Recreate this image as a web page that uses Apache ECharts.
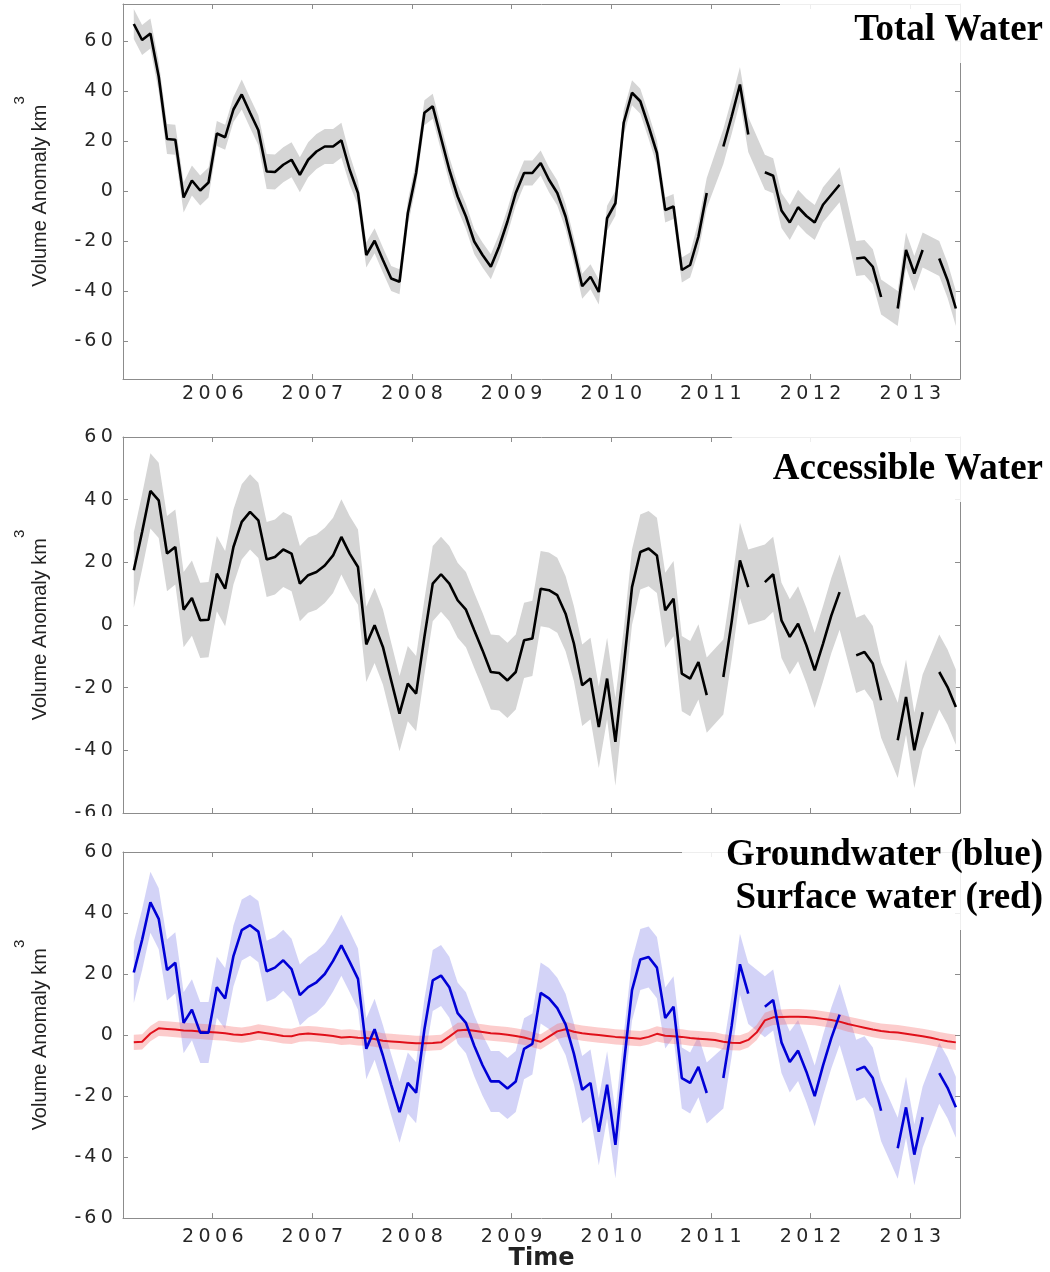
<!DOCTYPE html>
<html>
<head>
<meta charset="utf-8">
<script src="https://cdn.jsdelivr.net/npm/echarts@6/dist/echarts.min.js"></script>
<style>
  html, body { margin: 0; padding: 0; background: #fff; }
  #chart { width: 1050px; height: 1272px; }
</style>
</head>
<body>
<div id="chart"></div>
<script>
// Monthly volume anomalies (km^3), March 2005 - June 2013; null = missing month.
const firstYear = 2005;
const firstMonth = 3;
const monthCount = 100;
const yearTicks = [2006, 2007, 2008, 2009, 2010, 2011, 2012, 2013];
const volumeTicks = [-60, -40, -20, 0, 20, 40, 60];

const totalWater = [
  67, 60.6, 63.2, 46, 21, 20.7, -2.4, 4.4, 0.4, 3.6,                    // 2005
  23.2, 21.7, 32.8, 38.8, 31.5, 24.5, 8, 7.8, 10.7, 12.7, 6.7, 12.7,    // 2006
  16, 18, 18, 20.5, 8.7, -0.6, -25.4, -19.7, -27.4, -34.8, -36.1, -8.7, // 2007
  7.4, 31.5, 34.1, 21.4, 8.7, -2, -10, -20, -25.4, -30.1, -22, -12,     // 2008
  -0.6, 7.4, 7.4, 11.4, 4.7, -0.6, -10, -23.4, -37.9, -34.1, -40.2, -10.7, // 2009
  -4.7, 27.5, 39.5, 36.1, 26.1, 15.4, -7.4, -6, -31.4, -29.4, -18, -0.6,   // 2010
  null, 18, 30, 42.8, 22.8, null, 7.7, 6.3, -7.6, -12.4, -6.3, -9.8,       // 2011
  -12.4, -5.3, -1.3, 2.7, null, -26.8, -26.4, -30.1, -42.2, null, -46.8, -23.4, // 2012
  -32.8, -23.4, null, -26.8, -35.5, -46.8                                  // 2013
];
const totalErr = [
  6, 6, 6, 6, 6, 6, 6, 6, 6, 6,
  5, 5, 5, 6, 6, 6, 7, 7, 7, 7, 7, 7,
  7, 7, 7, 7, 6, 5, 5, 5, 5, 5, 5, 5,
  5, 5, 5, 5, 5, 5, 5, 5, 5, 5, 5, 5,
  5, 5, 5, 5, 5, 5, 5, 5, 5, 5, 5, 5,
  5, 5, 5, 5, 5, 5, 5, 5, 5, 5, 6, 6,
  null, 7, 7, 7, 7, null, 7, 7, 7, 7, 7, 7,
  7, 7, 7, 7, null, 7, 7, 7, 7, null, 7, 7,
  7, 7, null, 7, 7, 7
];

const accessibleWater = [
  17.5, 29.7, 42.8, 39.8, 22.8, 24.9, 4.9, 8.6, 1.5, 1.7,
  16.4, 11.6, 24.9, 32.9, 36.1, 33.4, 20.9, 21.7, 24.1, 22.8, 13.2, 15.9,
  16.9, 19, 22.2, 28.1, 22.8, 18.5, -6.2, -0.1, -7, -17.7, -28.3, -18.7,
  -21.9, -3.8, 13.2, 16.2, 13.2, 7.9, 4.9, -1.7, -8.1, -15, -15.3, -17.7,
  -15, -4.9, -4.3, 11.6, 11.1, 9.5, 3.6, -5.9, -19.2, -17.1, -32.6, -17.1,
  -37.3, -13.4, 12.1, 23.3, 24.4, 22.2, 4.7, 8.4, -15.5, -17.1, -11.8, -22.4,
  null, -16.6, 1, 20.6, 12.1, null, 13.7, 16.2, 1.5, -3.8, 0.4, -6.5,
  -14.5, -6, 3, 10.5, null, -9.7, -8.6, -12.3, -24, null, -36.8, -23,
  -40, -27.8, null, -15, -19.8, -26.2
];
const accessibleErr = [
  12, 12, 12, 12, 12, 12, 12, 12, 12, 12,
  12, 12, 12, 12, 12, 12, 12, 12, 12, 12, 12, 12,
  12, 12, 12, 12, 12, 12, 12, 12, 12, 12, 12, 12,
  12, 12, 12, 12, 12, 12, 12, 12, 12, 12, 12, 12,
  12, 12, 12, 12, 12, 12, 12, 12, 13, 13, 13, 13,
  14, 12, 12, 12, 12, 12, 12, 12, 12, 12, 12, 12,
  null, 12, 12, 12, 12, null, 12, 12, 12, 12, 12, 12,
  12, 12, 12, 12, null, 12, 12, 12, 12, null, 12, 12,
  12, 12, null, 12, 12, 12
];

const groundwater = [
  20.5, 31.2, 43.5, 38.1, 21.3, 23.7, 4, 8.3, 0.8, 0.8,
  15.7, 12, 25.9, 34.4, 36, 33.9, 20.9, 22.1, 24.5, 21.6, 13.1, 15.7,
  17.3, 20, 24.3, 29.4, 24, 18.4, -4.5, 1.9, -6.7, -16.3, -25.3, -15.7,
  -18.9, 1.9, 17.9, 19.5, 15.7, 7.2, 4, -3.5, -9.9, -15.2, -15.2, -17.5,
  -15.2, -4.5, -2.9, 13.8, 12, 8.8, 3.5, -6.1, -17.9, -15.7, -31.7, -16.3,
  -36, -9.9, 14.7, 24.8, 25.6, 22.1, 5.6, 9.3, -14.1, -15.7, -10.4, -19,
  null, -14.1, 3, 23.2, 13.6, null, 9.3, 11.5, -2.4, -8.8, -5.1, -12,
  -20, -10, -1, 6.7, null, -11.5, -10.4, -14.1, -24.8, null, -37.1, -23.7,
  -39.2, -26.9, null, -12.5, -17.3, -23.7
];
const groundwaterErr = [
  10, 10, 10, 10, 10, 10, 10, 10, 10, 10,
  10, 10, 10, 10, 10, 10, 10, 10, 10, 10, 10, 10,
  10, 10, 10, 10, 10, 10, 10, 10, 10, 10, 10, 10,
  10, 10, 10, 10, 10, 10, 10, 10, 10, 10, 10, 10,
  10, 10, 10, 10, 10, 10, 10, 10, 11, 11, 11, 11,
  11, 10, 10, 10, 10, 10, 10, 10, 10, 10, 10, 10,
  null, 10, 10, 10, 10, null, 10, 10, 10, 10, 10, 10,
  10, 10, 10, 10, null, 10, 10, 10, 10, null, 10, 10,
  10, 10, null, 10, 10, 10
];

const surfaceWater = [
  -2.4, -2.2, 0.5, 2.2, 2.0, 1.8, 1.5, 1.4, 1.2, 1.0,
  0.8, 0.6, 0.2, 0.0, 0.4, 1.0, 0.6, 0.2, -0.3, -0.4, 0.3, 0.5,
  0.3, 0.0, -0.3, -0.8, -0.6, -0.9, -1.0, -1.3, -1.9, -2.1, -2.3, -2.5,
  -2.7, -2.7, -2.6, -2.4, -0.5, 1.5, 1.7, 1.4, 1.0, 0.6, 0.4, 0.1,
  -0.3, -0.8, -1.5, -2.2, -0.5, 1.2, 1.9, 1.1, 0.6, 0.3, 0.0, -0.3,
  -0.6, -0.8, -1.0, -1.2, -0.6, 0.4, -0.2, -0.4, -0.6, -1.0, -1.2, -1.4,
  -1.6, -2.2, -2.5, -2.6, -1.6, 0.8, 4.8, 5.8, 5.9, 6.0, 6.0, 5.9,
  5.7, 5.3, 4.9, 4.4, 3.6, 3.0, 2.4, 1.8, 1.3, 1.0, 0.8, 0.4,
  0.0, -0.4, -0.9, -1.5, -2.0, -2.4
];
const surfaceErr = [
  2.5, 2.5, 2.5, 2.5, 2.5, 2.5, 2.5, 2.5, 2.5, 2.5,
  2.5, 2.5, 2.5, 2.5, 2.5, 2.5, 2.5, 2.5, 2.5, 2.5, 2.5, 2.5,
  2.5, 2.5, 2.5, 2.5, 2.5, 2.5, 2.5, 2.5, 2.5, 2.5, 2.5, 2.5,
  2.5, 2.5, 2.5, 2.5, 2.5, 2.5, 2.5, 2.5, 2.5, 2.5, 2.5, 2.5,
  2.5, 2.5, 2.5, 2.5, 2.5, 2.5, 2.5, 2.5, 2.5, 2.5, 2.5, 2.5,
  2.5, 2.5, 2.5, 2.5, 2.5, 2.5, 2.5, 2.5, 2.5, 2.5, 2.5, 2.5,
  2.5, 2.5, 2.5, 2.5, 2.5, 2.5, 2.5, 2.5, 2.5, 2.5, 2.5, 2.5,
  2.5, 2.5, 2.5, 2.5, 2.5, 2.5, 2.5, 2.5, 2.5, 2.5, 2.5, 2.5,
  2.5, 2.5, 2.5, 2.5, 2.5, 2.5
];

// Mid-month positions in decimal years
const months = Array.from({ length: monthCount },
  (_, k) => firstYear + (firstMonth - 0.5 + k) / 12);

const axisGray = '#8c8c8c';
const labelColor = '#262626';

// Tick labels: one token per character so the digits sit wide apart
const tickRich = {
  d: { fontSize: 19, fontFamily: 'DejaVu Sans', color: labelColor, width: 16.5, align: 'center' },
  m: { fontSize: 19, fontFamily: 'DejaVu Sans', color: labelColor, width: 8, align: 'center' }
};
function spaced(v) {
  return String(v).split('').map(c => (c === '-' ? '{m|-}' : '{d|' + c + '}')).join('');
}

const grids = [
  { left: 123, top: 4, width: 837, height: 375 },
  { left: 123, top: 437, width: 837, height: 376 },
  { left: 123, top: 852, width: 837, height: 375 }
];
const yRanges = [[-75, 75], [-60, 60], [-60, 60]];
const xLabelMargins = [6, null, 9];

const xAxes = [];
const yAxes = [];
grids.forEach((g, i) => {
  const baseX = {
    gridIndex: i, type: 'value', min: 2005.1, max: 2013.5,
    axisLine: { show: true, onZero: false, lineStyle: { color: axisGray, width: 1 } },
    axisTick: { show: true, inside: true, length: 5, customValues: yearTicks, lineStyle: { color: axisGray } },
    splitLine: { show: false }
  };
  xAxes.push(Object.assign({}, baseX, {
    position: 'bottom',
    axisLabel: xLabelMargins[i] == null ? { show: false } : {
      show: true, customValues: yearTicks, margin: xLabelMargins[i],
      formatter: spaced, rich: tickRich
    },
    name: i === 2 ? 'Time' : '',
    nameLocation: 'middle',
    nameGap: 24,
    nameTextStyle: { fontSize: 24, fontWeight: 'bold', fontFamily: 'DejaVu Sans', color: '#222' }
  }));
  xAxes.push(Object.assign({}, baseX, { position: 'top', axisLabel: { show: false } }));

  const baseY = {
    gridIndex: i, type: 'value', min: yRanges[i][0], max: yRanges[i][1],
    axisLine: { show: true, onZero: false, lineStyle: { color: axisGray, width: 1 } },
    axisTick: { show: true, inside: true, length: 5, customValues: volumeTicks, lineStyle: { color: axisGray } },
    splitLine: { show: false }
  };
  yAxes.push(Object.assign({}, baseY, {
    position: 'left',
    axisLabel: { show: true, customValues: volumeTicks, margin: 8, formatter: spaced, rich: tickRich },
    name: '{a|Volume Anomaly km}{s|3}',
    nameLocation: 'middle',
    nameRotate: 90,
    nameGap: 55,
    nameTextStyle: {
      rich: {
        a: { fontSize: 20, fontFamily: 'Liberation Sans', color: '#222', lineHeight: 56, verticalAlign: 'middle' },
        s: { fontSize: 15, fontFamily: 'Liberation Sans', color: '#222', lineHeight: 15, verticalAlign: 'top' }
      }
    }
  }));
  yAxes.push(Object.assign({}, baseY, { position: 'right', axisLabel: { show: false } }));
});

// Shaded uncertainty band drawn as one polygon through the axis scales
function band(gridIdx, values, err, fill, z) {
  const pts = [];
  values.forEach((v, k) => {
    if (v != null && err[k] != null) pts.push([months[k], v - err[k], v + err[k]]);
  });
  return {
    type: 'custom', xAxisIndex: gridIdx * 2, yAxisIndex: gridIdx * 2,
    silent: true, clip: true, z: z,
    data: pts, encode: { x: 0, y: [1, 2] },
    renderItem(params, api) {
      if (params.dataIndex !== 0) return null;
      const upper = pts.map(p => api.coord([p[0], p[2]]));
      const lower = pts.map(p => api.coord([p[0], p[1]])).reverse();
      return { type: 'polygon', shape: { points: upper.concat(lower) }, style: { fill: fill } };
    }
  };
}

function line(gridIdx, values, color, width, z) {
  return {
    type: 'line', xAxisIndex: gridIdx * 2, yAxisIndex: gridIdx * 2,
    data: months.map((t, k) => [t, values[k]]),
    showSymbol: false, symbol: 'none', connectNulls: false, silent: true, z: z,
    lineStyle: { color: color, width: width }
  };
}

const series = [
  band(0, totalWater, totalErr, '#d5d5d5', 1),
  line(0, totalWater, '#000000', 2.6, 5),
  band(1, accessibleWater, accessibleErr, '#d5d5d5', 1),
  line(1, accessibleWater, '#000000', 2.6, 5),
  band(2, groundwater, groundwaterErr, 'rgba(150,150,235,0.42)', 1),
  band(2, surfaceWater, surfaceErr, 'rgba(245,110,110,0.35)', 2),
  line(2, surfaceWater, '#e0101a', 2, 4),
  line(2, groundwater, '#0000d6', 2.6, 5)
];

function titleText(text, y) {
  return {
    type: 'text', x: 1043, y: y, z: 101,
    style: {
      text: text, font: 'bold 37px "Liberation Serif"', fill: '#000',
      align: 'right', verticalAlign: 'middle', textAlign: 'right', textVerticalAlign: 'middle'
    }
  };
}
function veil(x, y, w, h, fill, z) {
  return { type: 'rect', shape: { x: x, y: y, width: w, height: h }, style: { fill: fill }, z: z, silent: true };
}

const graphic = [
  veil(0, 816, 1050, 25, '#ffffff', 99),
  veil(780, 0, 270, 63, 'rgba(255,255,255,0.85)', 100),
  veil(732, 424, 318, 78, 'rgba(255,255,255,0.85)', 100),
  veil(682, 828, 368, 102, 'rgba(255,255,255,0.85)', 100),
  titleText('Total Water', 30),
  titleText('Accessible Water', 469),
  titleText('Groundwater (blue)', 855),
  titleText('Surface water (red)', 898)
];

const chart = echarts.init(document.getElementById('chart'), null, { renderer: 'canvas' });
chart.setOption({
  animation: false,
  backgroundColor: '#ffffff',
  textStyle: { fontFamily: 'Liberation Sans' },
  grid: grids,
  xAxis: xAxes,
  yAxis: yAxes,
  series: series,
  graphic: graphic
});
</script>
</body>
</html>
